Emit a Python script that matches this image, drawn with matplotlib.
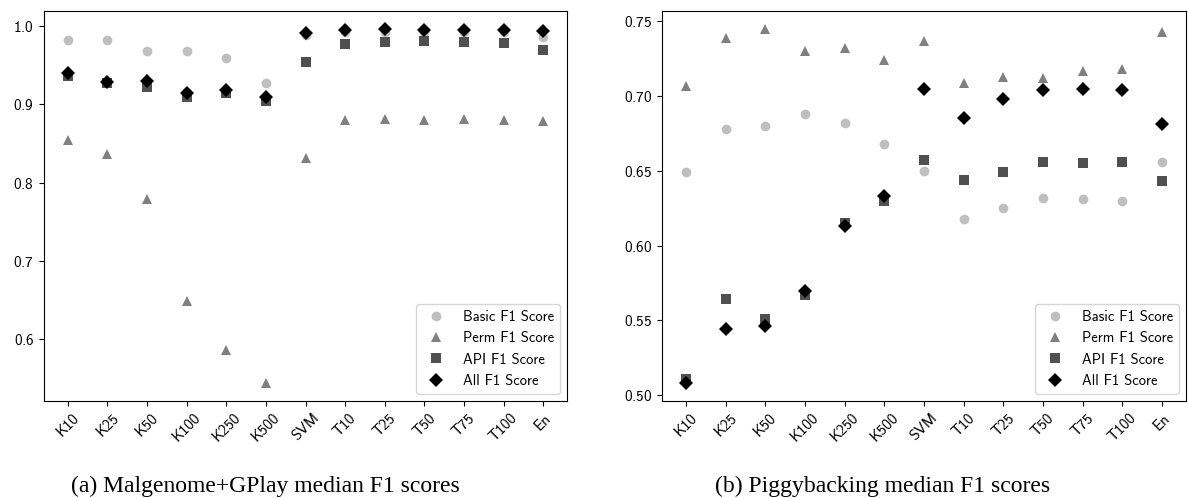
import matplotlib
matplotlib.use("Agg")
import matplotlib.pyplot as plt

plt.rcParams['font.family'] = ['cmss10', 'DejaVu Sans']
plt.rcParams['axes.formatter.use_mathtext'] = True
plt.rcParams['font.size'] = 11

labels = ["K10", "K25", "K50", "K100", "K250", "K500", "SVM",
          "T10", "T25", "T50", "T75", "T100", "En"]

# Malgenome+GPlay medians
mg_basic = [0.983, 0.982, 0.969, 0.968, 0.960, 0.927, 0.989,
            0.993, 0.993, 0.993, 0.993, 0.993, 0.987]
mg_perm = [0.854, 0.837, 0.779, 0.648, 0.586, 0.543, 0.832,
           0.880, 0.882, 0.880, 0.881, 0.880, 0.879]
mg_api = [0.937, 0.927, 0.922, 0.909, 0.915, 0.905, 0.954,
          0.978, 0.980, 0.981, 0.980, 0.979, 0.970]
mg_all = [0.940, 0.929, 0.930, 0.915, 0.919, 0.910, 0.992,
          0.995, 0.997, 0.995, 0.996, 0.995, 0.994]

# Piggybacking medians
pb_basic = [0.649, 0.678, 0.680, 0.688, 0.682, 0.668, 0.650,
            0.618, 0.625, 0.632, 0.631, 0.630, 0.656]
pb_perm = [0.707, 0.739, 0.745, 0.730, 0.732, 0.724, 0.737,
           0.709, 0.713, 0.712, 0.717, 0.718, 0.743]
pb_api = [0.511, 0.564, 0.551, 0.567, 0.615, 0.630, 0.657,
          0.644, 0.649, 0.656, 0.655, 0.656, 0.643]
pb_all = [0.508, 0.544, 0.546, 0.570, 0.613, 0.633, 0.705,
          0.685, 0.698, 0.704, 0.705, 0.704, 0.681]

series_names = ["Basic F1 Score", "Perm F1 Score", "API F1 Score", "All F1 Score"]
markers = ["o", "^", "s", "D"]
colors = ["#bfbfbf", "#808080", "#505050", "#000000"]


def draw(ax, data):
    x = range(len(labels))
    for vals, name, m, c in zip(data, series_names, markers, colors):
        ax.plot(x, vals, linestyle="", marker=m, color=c, markersize=7,
                markeredgewidth=0, label=name)
    ax.set_xticks(list(x))
    ax.set_xticklabels(labels, rotation=45)
    ax.tick_params(labelsize=11)
    ax.legend(loc="lower right", fontsize=10.5)


fig = plt.figure(figsize=(11.88, 4.98), dpi=100)
ax1 = fig.add_axes([44 / 1188, 97 / 498, 523 / 1188, 390 / 498])
ax2 = fig.add_axes([662 / 1188, 97 / 498, 524 / 1188, 390 / 498])

draw(ax1, [mg_basic, mg_perm, mg_api, mg_all])
draw(ax2, [pb_basic, pb_perm, pb_api, pb_all])

fig.text(265 / 1188, 6 / 498, "(a) Malgenome+GPlay median F1 scores",
         ha="center", va="baseline", fontsize=17, family="Liberation Serif")
fig.text(883 / 1188, 6 / 498, "(b) Piggybacking median F1 scores",
         ha="center", va="baseline", fontsize=17, family="Liberation Serif")

fig.savefig("out.png", dpi=100)
